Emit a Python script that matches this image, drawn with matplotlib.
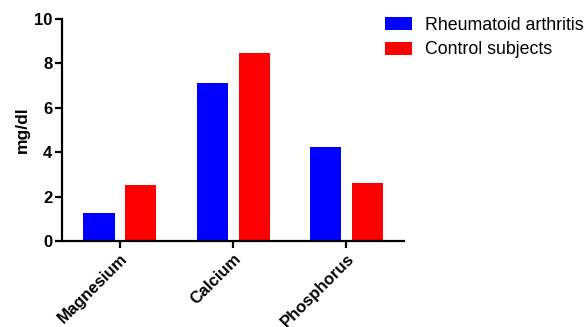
import matplotlib.pyplot as plt
import numpy as np

plt.rcParams["font.family"] = ["Liberation Sans", "DejaVu Sans"]

categories = ["Magnesium", "Calcium", "Phosphorus"]
rheumatoid = [1.26, 7.12, 4.23]
control = [2.52, 8.47, 2.61]

fig = plt.figure(figsize=(5.88, 3.27), dpi=100)
ax = fig.add_axes([0.1054, 0.263, 0.5816, 0.679])

x = np.arange(len(categories))
w = 0.274
ax.bar(x - 0.183, rheumatoid, w, color="#0000ff", label="Rheumatoid arthritis")
ax.bar(x + 0.186, control, w, color="#ff0000", label="Control subjects")

ax.set_xlim(-0.51, 2.51)
ax.set_ylim(0, 10)
ax.set_yticks([0, 2, 4, 6, 8, 10])
ax.set_xticks(x)
ax.set_xticklabels(categories, rotation=45, ha="right", rotation_mode="anchor",
                   fontsize=12, fontweight="bold")
for lbl in ax.get_yticklabels():
    lbl.set_fontweight("bold")
    lbl.set_fontsize(12)
ax.set_ylabel("mg/dl", fontsize=12.5, fontweight="bold")
ax.yaxis.set_label_coords(-0.095, 0.5)

for s in ["top", "right"]:
    ax.spines[s].set_visible(False)
for s in ["left", "bottom"]:
    ax.spines[s].set_linewidth(1.6)
ax.tick_params(width=1.6, length=5, pad=2)

ax.legend(loc="upper left", bbox_to_anchor=(0.655, 0.948),
          bbox_transform=fig.transFigure, frameon=False, borderpad=0,
          borderaxespad=0, fontsize=12.8, handlelength=1.52, handleheight=0.73,
          labelspacing=0.42, handletextpad=0.73)

fig.savefig("out.png", dpi=100)
